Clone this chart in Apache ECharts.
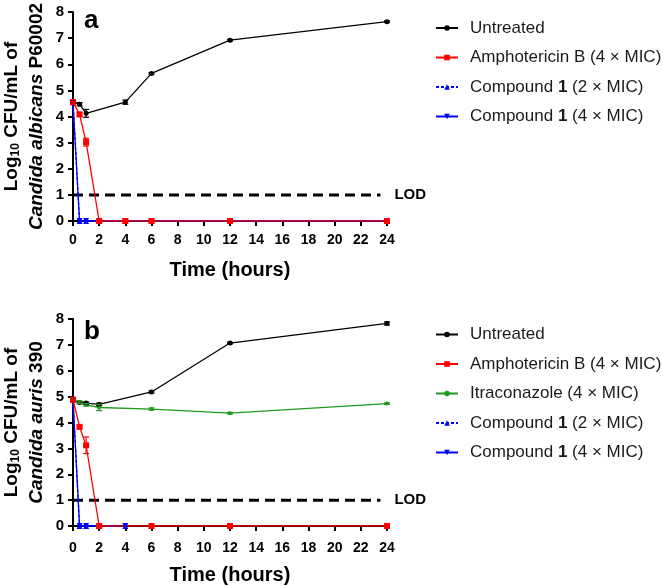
<!DOCTYPE html>
<html>
<head>
<meta charset="utf-8">
<script src="https://cdn.jsdelivr.net/npm/echarts@6/dist/echarts.min.js"></script>
<style>html,body{margin:0;padding:0;background:#fff}#c{width:663px;height:586px}</style>
</head>
<body>
<div id="c"></div>
<script>
// ---- Data ----
const xTicks = [0, 24, 2];          // min, max, interval (hours)
const yTicks = [0, 8, 1];           // min, max, interval (log10 CFU/mL)
const lodValue = 1;
const lodHours = [0, 23.5];

// Panel a: Candida albicans P60002
const untreatedA_t = [0, 0.5, 1, 4, 6, 12, 24];
const untreatedA_v = [4.56, 4.47, 4.12, 4.55, 5.65, 6.92, 7.63];
const untreatedA_e = [0.03, 0.06, 0.15, 0.08, 0.03, 0.03, 0.03];
const amphoA_t = [0, 0.5, 1, 2, 4, 6, 12, 24];
const amphoA_v = [4.55, 4.08, 3.02, 0, 0, 0, 0, 0];
const amphoA_e = [0.03, 0.08, 0.15, 0, 0, 0, 0, 0];
const comp2A_t = [0, 0.5, 1, 2, 4, 6, 12, 24];
const comp2A_v = [4.55, 0, 0, 0, 0, 0, 0, 0];
const comp4A_t = [0, 0.5, 1, 2, 4, 6, 12, 24];
const comp4A_v = [4.55, 0, 0, 0, 0, 0, 0, 0];

// Panel b: Candida auris 390
const untreatedB_t = [0, 0.5, 1, 2, 6, 12, 24];
const untreatedB_v = [4.88, 4.77, 4.75, 4.70, 5.18, 7.07, 7.83];
const untreatedB_e = [0.03, 0.04, 0.04, 0.05, 0.04, 0.03, 0.06];
const amphoB_t = [0, 0.5, 1, 2, 6, 12, 24];
const amphoB_v = [4.88, 3.83, 3.12, 0, 0, 0, 0];
const amphoB_e = [0.03, 0.05, 0.32, 0, 0, 0, 0];
const itraB_t = [0, 0.5, 1, 2, 6, 12, 24];
const itraB_v = [4.88, 4.78, 4.68, 4.58, 4.52, 4.36, 4.73];
const itraB_e = [0.03, 0.05, 0.05, 0.12, 0.04, 0.03, 0.03];
const comp2B_t = [0, 0.5, 1, 2, 4];
const comp2B_v = [4.88, 0, 0, 0, 0];
const comp4B_t = [0, 0.5, 1, 2, 4];
const comp4B_v = [4.88, 0, 0, 0, 0];

const names = {
  untreated: 'Untreated',
  ampho: 'Amphotericin B (4 × MIC)',
  itra: 'Itraconazole (4 × MIC)',
  comp2: 'Compound 1 (2 × MIC)',
  comp4: 'Compound 1 (4 × MIC)'
};
const yNameA = ['Log', '10', ' CFU/mL of', 'Candida albicans', ' P60002'];
const yNameB = ['Log', '10', ' CFU/mL of', 'Candida auris', ' 390'];
const xName = 'Time (hours)';
const panelLabels = ['a', 'b'];

// ---- Styling ----
const FF = 'Arial, "Liberation Sans", Helvetica, sans-serif';
const C = { untreated: '#000000', ampho: '#ff0000', itra: '#1f9a1f', comp2: '#0000ff', comp4: '#0000ff' };
const zip = (t, v) => t.map((x, i) => [x, v[i]]);
const zip3 = (t, v, e) => t.map((x, i) => [x, v[i], e[i]]);

function lineSeries(key, t, v, gi, symbol, size, dashed) {
  return {
    name: names[key], type: 'line', xAxisIndex: gi, yAxisIndex: gi,
    data: zip(t, v), symbol: symbol, symbolSize: size, showSymbol: true,
    lineStyle: { color: C[key], width: 1.3, type: dashed ? [3, 2] : 'solid' },
    itemStyle: { color: C[key] }, z: 3, animation: false
  };
}
function errSeries(key, t, v, e, gi) {
  return {
    type: 'custom', xAxisIndex: gi, yAxisIndex: gi, data: zip3(t, v, e), z: 4, silent: true,
    animation: false,
    renderItem: function (params, api) {
      const x = api.value(0), y = api.value(1), er = api.value(2);
      if (!er) return;
      const lo = api.coord([x, y - er]), hi = api.coord([x, y + er]);
      const st = { stroke: C[key], lineWidth: 1.2 };
      return { type: 'group', children: [
        { type: 'line', shape: { x1: lo[0], y1: lo[1], x2: hi[0], y2: hi[1] }, style: st },
        { type: 'line', shape: { x1: lo[0] - 3, y1: lo[1], x2: lo[0] + 3, y2: lo[1] }, style: st },
        { type: 'line', shape: { x1: hi[0] - 3, y1: hi[1], x2: hi[0] + 3, y2: hi[1] }, style: st }
      ]};
    }
  };
}
function lodSeries(gi) {
  return {
    type: 'line', xAxisIndex: gi, yAxisIndex: gi, data: zip(lodHours, [lodValue, lodValue]),
    symbol: 'none', lineStyle: { color: '#000', width: 3, type: [10, 6] }, z: 2, silent: true,
    animation: false,
    endLabel: { show: true, formatter: 'LOD', fontFamily: FF, fontWeight: 'bold', fontSize: 15, color: '#000', offset: [6, 0] }
  };
}
const downTri = 'path://M0,0 L10,0 L5,9 Z';

function xAxis(gi, labelMargin) {
  return {
    type: 'value', gridIndex: gi, min: xTicks[0], max: xTicks[1], interval: xTicks[2],
    name: xName, nameLocation: 'middle', nameGap: 39,
    nameTextStyle: { fontFamily: FF, fontWeight: 'bold', fontSize: 20, color: '#000' },
    axisLine: { lineStyle: { color: '#000', width: 2 } },
    axisTick: { show: true, length: 5, lineStyle: { color: '#000', width: 2 } },
    axisLabel: { fontFamily: FF, fontWeight: 'bold', fontSize: 14, color: '#000', margin: labelMargin },
    splitLine: { show: false }
  };
}
function yAxis(gi, nm) {
  return {
    type: 'value', gridIndex: gi, min: yTicks[0], max: yTicks[1], interval: yTicks[2],
    name: '{n|' + nm[0] + '}{s|' + nm[1] + '}{n|' + nm[2] + '}\n{i|' + nm[3] + '}{n|' + nm[4] + '}',
    nameLocation: 'middle', nameGap: 24, nameRotate: 90,
    nameTextStyle: {
      fontFamily: FF, fontWeight: 'bold', fontSize: 19, color: '#000', lineHeight: 25,
      rich: {
        n: { fontFamily: FF, fontWeight: 'bold', fontSize: 19, color: '#000', lineHeight: 25 },
        s: { fontFamily: FF, fontWeight: 'bold', fontSize: 12, color: '#000', lineHeight: 25, padding: [8, 0, 0, 0] },
        i: { fontFamily: FF, fontWeight: 'bold', fontStyle: 'italic', fontSize: 19, color: '#000', lineHeight: 25 }
      }
    },
    axisLine: { show: true, lineStyle: { color: '#000', width: 2 } },
    axisTick: { show: true, length: 5, lineStyle: { color: '#000', width: 2 } },
    axisLabel: { fontFamily: FF, fontWeight: 'bold', fontSize: 15, color: '#000', margin: 9 },
    splitLine: { show: false }
  };
}
function legendFmt(name) {
  if (name.indexOf('Compound 1') === 0) {
    return '{n|Compound }{b|1}{n|' + name.slice(10) + '}';
  }
  return '{n|' + name + '}';
}
function legend(top, data) {
  return {
    orient: 'vertical', left: 435, top: top, data: data, itemWidth: 22, itemHeight: 7, itemGap: 12.5,
    padding: 0, selectedMode: false, formatter: legendFmt,
    textStyle: {
      fontFamily: FF, fontSize: 17, color: '#1a1a1a', padding: [0, 0, 0, 7],
      rich: {
        n: { fontFamily: FF, fontSize: 17, color: '#1a1a1a', lineHeight: 17 },
        b: { fontFamily: FF, fontSize: 17, color: '#1a1a1a', fontWeight: 'bold', lineHeight: 17 }
      }
    }
  };
}

const option = {
  backgroundColor: '#fff',
  animation: false,
  grid: [
    { left: 73, top: 12, width: 314, height: 209, outerBoundsMode: 'none', containLabel: false },
    { left: 73, top: 319, width: 314, height: 207, outerBoundsMode: 'none', containLabel: false }
  ],
  xAxis: [xAxis(0, 12), xAxis(1, 15)],
  yAxis: [yAxis(0, yNameA), yAxis(1, yNameB)],
  legend: [
    legend(19.5, [names.untreated, names.ampho, names.comp2, names.comp4]),
    legend(326, [names.untreated, names.ampho, names.itra, names.comp2, names.comp4])
  ],
  graphic: [
    { type: 'text', left: 84, top: 8, style: { text: panelLabels[0], font: 'bold 26px ' + FF, fill: '#000' } },
    { type: 'text', left: 84, top: 319, style: { text: panelLabels[1], font: 'bold 26px ' + FF, fill: '#000' } }
  ],
  series: [
    lodSeries(0),
    lineSeries('untreated', untreatedA_t, untreatedA_v, 0, 'circle', 5),
    lineSeries('comp2', comp2A_t, comp2A_v, 0, 'triangle', 6, true),
    lineSeries('comp4', comp4A_t, comp4A_v, 0, downTri, 6),
    lineSeries('ampho', amphoA_t, amphoA_v, 0, 'rect', 6),
    errSeries('untreated', untreatedA_t, untreatedA_v, untreatedA_e, 0),
    errSeries('ampho', amphoA_t, amphoA_v, amphoA_e, 0),

    lodSeries(1),
    lineSeries('untreated', untreatedB_t, untreatedB_v, 1, 'circle', 5),
    lineSeries('itra', itraB_t, itraB_v, 1, 'circle', 4),
    lineSeries('comp2', comp2B_t, comp2B_v, 1, 'triangle', 6, true),
    lineSeries('comp4', comp4B_t, comp4B_v, 1, downTri, 6),
    lineSeries('ampho', amphoB_t, amphoB_v, 1, 'rect', 6),
    errSeries('untreated', untreatedB_t, untreatedB_v, untreatedB_e, 1),
    errSeries('itra', itraB_t, itraB_v, itraB_e, 1),
    errSeries('ampho', amphoB_t, amphoB_v, amphoB_e, 1)
  ]
};
const chart = echarts.init(document.getElementById('c'), null, { renderer: 'canvas' });
chart.setOption(option);
</script>
</body>
</html>
